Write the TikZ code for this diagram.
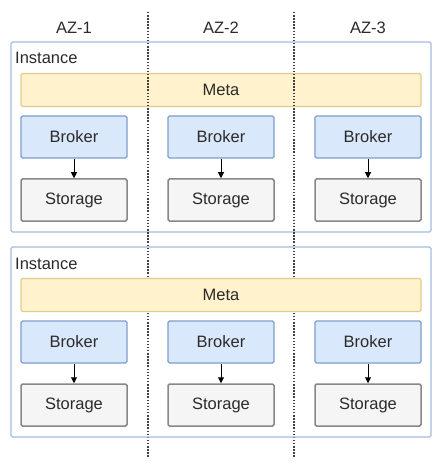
\documentclass[tikz,border=0pt]{standalone}
\usepackage{fontspec}
\setmainfont{Liberation Sans}
\usetikzlibrary{arrows.meta}
\definecolor{metaF}{HTML}{FFF2CC}
\definecolor{metaD}{HTML}{D6B656}
\definecolor{brkF}{HTML}{DAE8FC}
\definecolor{brkD}{HTML}{7F9ECC}
\definecolor{stoF}{HTML}{F5F5F5}
\definecolor{stoD}{HTML}{888888}
\definecolor{instD}{HTML}{A3BCE0}
\definecolor{txt}{HTML}{2B2B2B}
\begin{document}
\begin{tikzpicture}[x=1pt,y=-1pt,
  every node/.style={font=\fontsize{16.5}{19}\selectfont, text=txt, inner sep=0pt},
  instbox/.style={draw=instD, line width=1.3pt, fill=white, minimum width=420pt, minimum height=190pt, rounded corners=1.5pt},
  metabox/.style={draw=metaD!70, line width=1.2pt, fill=metaF, minimum width=400pt, minimum height=33pt, rounded corners=1.5pt},
  brkbox/.style={draw=brkD, line width=1.2pt, fill=brkF, minimum width=106pt, minimum height=42pt, rounded corners=1.5pt},
  stobox/.style={draw=stoD, line width=1.5pt, fill=stoF, minimum width=106pt, minimum height=42pt, rounded corners=1.5pt},
  azline/.style={draw=black!75, line width=1.3pt, dash pattern=on 1.5pt off 1.6pt},
  flow/.style={draw=black, line width=1pt, -{Triangle[length=6pt,width=6pt]}}
]
\useasboundingbox (0,0) rectangle (442,470);
\fill[white] (0,0) rectangle (442,470);

% AZ labels
\node (az1) at (74,28) {AZ-1};
\node (az2) at (221,28) {AZ-2};
\node (az3) at (368,28) {AZ-3};

% Instance 1
\node[instbox] (inst1) at (221,137) {};
\node[anchor=west] (inst1t) at (15,58) {Instance};
\node[metabox] (meta1) at (221,90) {Meta};
\node[brkbox] (b11) at (74,137) {Broker};
\node[brkbox] (b12) at (221,137) {Broker};
\node[brkbox] (b13) at (368,137) {Broker};
\node[stobox] (s11) at (74,200) {Storage};
\node[stobox] (s12) at (221,200) {Storage};
\node[stobox] (s13) at (368,200) {Storage};
\draw[flow] (b11) -- (s11);
\draw[flow] (b12) -- (s12);
\draw[flow] (b13) -- (s13);

% AZ separators
\coordinate (l1t) at (148,12);
\coordinate (l1b) at (148,458);
\coordinate (l2t) at (294,12);
\coordinate (l2b) at (294,458);
\draw[azline] (l1t) -- (l1b);
\draw[azline] (l2t) -- (l2b);

% Instance 2
\node[instbox, fill=none] (inst2) at (221,342) {};
\node[anchor=west] (inst2t) at (15,264) {Instance};
\node[metabox] (meta2) at (221,295) {Meta};
\node[brkbox] (b21) at (74,342) {Broker};
\node[brkbox] (b22) at (221,342) {Broker};
\node[brkbox] (b23) at (368,342) {Broker};
\node[stobox] (s21) at (74,405) {Storage};
\node[stobox] (s22) at (221,405) {Storage};
\node[stobox] (s23) at (368,405) {Storage};
\draw[flow] (b21) -- (s21);
\draw[flow] (b22) -- (s22);
\draw[flow] (b23) -- (s23);
\end{tikzpicture}
\end{document}
